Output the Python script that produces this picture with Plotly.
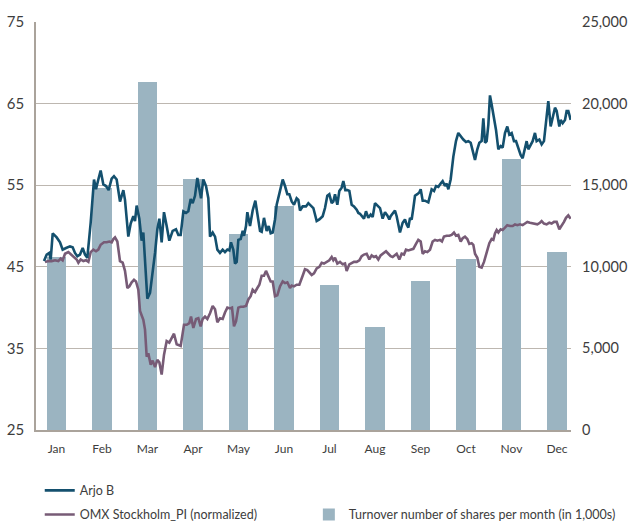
import plotly.graph_objects as go

# ---- data ----
months = ["Jan", "Feb", "Mar", "Apr", "May", "Jun", "Jul", "Aug", "Sep", "Oct", "Nov", "Dec"]
turnover = [10600, 14800, 21300, 15400, 12000, 13700, 8900, 6300, 9100, 10500, 16600, 10900]

# time measured in months since 1 January
arjo_t = [0.225, 0.284, 0.342, 0.372, 0.416, 0.503, 0.577, 0.635, 0.709, 0.796, 0.855, 0.906, 0.958, 1.016,
          1.075, 1.126, 1.177, 1.251, 1.324, 1.368, 1.419, 1.470, 1.529, 1.588, 1.646, 1.712, 1.763, 1.822,
          1.895, 1.969, 2.005, 2.078, 2.130, 2.188, 2.225, 2.261, 2.320, 2.371, 2.408, 2.467, 2.496, 2.555,
          2.613, 2.665, 2.716, 2.760, 2.811, 2.862, 2.921, 2.979,
          3.053, 3.126, 3.178, 3.229, 3.288, 3.346, 3.397, 3.449, 3.493, 3.544, 3.595, 3.639, 3.676, 3.727,
          3.786, 3.837, 3.874, 3.932, 3.984, 4.035, 4.093, 4.152, 4.203, 4.255, 4.299, 4.335, 4.386, 4.423,
          4.460, 4.496, 4.548, 4.592, 4.621, 4.665, 4.694, 4.753, 4.811, 4.870, 4.914, 4.973, 5.009, 5.060,
          5.119, 5.163, 5.207, 5.251, 5.302, 5.339, 5.412, 5.471, 5.522, 5.573, 5.617, 5.669, 5.720, 5.778,
          5.815, 5.852,
          5.910, 5.983, 6.035, 6.086, 6.145, 6.218, 6.277, 6.350, 6.401, 6.452, 6.496, 6.548, 6.584, 6.621,
          6.672, 6.716, 6.767, 6.804, 6.848, 6.892, 6.936, 6.987, 7.038, 7.097, 7.134, 7.170, 7.207, 7.258,
          7.302, 7.353, 7.405, 7.449, 7.500, 7.551, 7.610, 7.668, 7.720, 7.771, 7.815, 7.844, 7.903, 7.939,
          7.976, 8.013, 8.049, 8.108, 8.159, 8.196, 8.233, 8.269, 8.306, 8.343, 8.379, 8.430, 8.474, 8.504,
          8.548, 8.599, 8.672,
          8.745, 8.797, 8.841, 8.892, 8.943, 8.987, 9.039, 9.075, 9.112, 9.163, 9.222, 9.280, 9.331, 9.383,
          9.441, 9.500, 9.551, 9.603, 9.647, 9.698, 9.749, 9.793, 9.844, 9.881, 9.918, 9.954, 9.991, 10.027,
          10.064, 10.115, 10.159, 10.211, 10.262, 10.306, 10.357, 10.408, 10.452, 10.504, 10.555, 10.599,
          10.650, 10.701, 10.745, 10.797, 10.833, 10.870, 10.921, 10.965, 11.016, 11.053, 11.112, 11.163,
          11.214, 11.258, 11.309, 11.361, 11.405, 11.456, 11.493, 11.551, 11.581, 11.625, 11.676, 11.712,
          11.749, 11.800]
arjo_v = [45.7, 46.5, 46.7, 45.9, 49.1, 48.6, 48.0, 47.1, 47.3, 47.5, 47.4, 46.7, 46.3, 46.5,
          47.3, 46.5, 46.1, 50.4, 55.7, 54.5, 55.7, 56.8, 55.1, 54.9, 54.4, 55.8, 56.1, 55.7,
          53.0, 54.4, 53.2, 48.7, 50.3, 51.2, 50.6, 52.5, 50.9, 48.2, 49.2, 43.4, 41.1, 41.8,
          44.3, 46.7, 49.6, 50.9, 48.0, 51.7, 50.0, 48.2,
          49.4, 49.6, 48.9, 48.9, 51.8, 51.6, 51.8, 53.3, 52.8, 53.7, 55.9, 54.4, 53.4, 55.7,
          54.9, 53.4, 48.7, 49.2, 48.7, 47.1, 46.7, 47.1, 46.8, 47.1, 47.0, 48.0, 47.1, 45.4,
          45.6, 48.3, 48.4, 49.4, 48.8, 50.0, 51.7, 50.0, 51.9, 53.1, 51.6, 49.4, 49.3, 51.0,
          49.4, 50.0, 49.1, 49.2, 50.8, 52.6, 54.3, 55.7, 54.9, 53.9, 53.9, 53.0, 52.6, 53.4,
          53.2, 51.9,
          52.4, 52.4, 52.8, 52.5, 52.2, 50.6, 50.8, 51.2, 52.2, 53.7, 53.9, 52.8, 53.0, 53.9,
          52.6, 54.3, 54.7, 55.5, 54.4, 54.4, 54.3, 52.6, 52.4, 52.0, 51.6, 51.5, 51.2, 50.9,
          51.8, 51.0, 51.4, 51.1, 52.8, 52.5, 52.2, 50.9, 51.7, 51.3, 50.8, 51.2, 51.7, 51.9,
          51.2, 50.0, 49.2, 50.4, 50.8, 50.2, 49.8, 51.0, 50.8, 52.2, 53.7, 53.9, 54.1, 54.5,
          53.1, 53.1, 52.9,
          54.5, 54.3, 54.9, 54.8, 55.2, 55.5, 54.9, 55.2, 54.5, 55.7, 58.5, 60.4, 61.4, 61.0,
          60.6, 60.3, 60.4, 60.2, 59.2, 58.1, 59.4, 60.2, 60.4, 63.2, 60.2, 60.4, 62.4, 66.0,
          64.9, 63.4, 61.8, 59.4, 59.8, 59.6, 61.4, 62.2, 61.2, 61.4, 60.4, 60.4,
          59.4, 58.7, 58.3, 59.6, 60.4, 59.4, 60.0, 60.4, 61.4, 60.4, 60.6, 60.0,
          60.4, 62.4, 65.3, 62.2, 63.2, 64.5, 64.1, 62.2, 63.0, 62.6, 63.0, 64.1,
          64.1, 63.0]

omx_t = [0.247, 0.320, 0.393, 0.467, 0.540, 0.591, 0.635, 0.687, 0.760, 0.833, 0.885, 0.943, 0.980, 1.031,
         1.090, 1.148, 1.200, 1.251, 1.310, 1.368, 1.419, 1.470, 1.544, 1.603, 1.661, 1.712, 1.749, 1.786,
         1.837, 1.895, 1.954, 2.005, 2.057, 2.101, 2.152, 2.203, 2.247, 2.298, 2.335, 2.408, 2.445, 2.482,
         2.518, 2.570, 2.613, 2.665, 2.716, 2.760, 2.811, 2.862, 2.921, 2.979,
         3.082, 3.141, 3.229, 3.302, 3.361, 3.419, 3.456, 3.507, 3.566, 3.617, 3.668, 3.712, 3.764, 3.815,
         3.874, 3.932, 3.984, 4.035, 4.093, 4.152, 4.203, 4.255, 4.313, 4.357, 4.401, 4.445, 4.496, 4.548,
         4.606, 4.665, 4.716, 4.767, 4.811, 4.863, 4.914, 4.958, 5.009, 5.060, 5.104, 5.156, 5.207, 5.251,
         5.302, 5.353, 5.412, 5.471, 5.522, 5.573, 5.632, 5.669, 5.720, 5.778, 5.837,
         5.910, 5.961, 6.013, 6.057, 6.108, 6.159, 6.218, 6.277, 6.328, 6.379, 6.438, 6.496, 6.548, 6.584,
         6.621, 6.672, 6.731, 6.789, 6.841, 6.877, 6.936, 6.987, 7.038, 7.097, 7.156, 7.207, 7.258, 7.317,
         7.375, 7.427, 7.478, 7.522, 7.573, 7.624, 7.683, 7.742, 7.793, 7.844, 7.888, 7.939, 7.976, 8.035,
         8.086, 8.137, 8.181, 8.233, 8.284, 8.343, 8.401, 8.452, 8.504, 8.548, 8.599, 8.650, 8.709,
         8.767, 8.819, 8.870, 8.928, 8.972, 9.016, 9.075, 9.134, 9.185, 9.236, 9.280, 9.331, 9.383, 9.427,
         9.478, 9.529, 9.573, 9.625, 9.661, 9.698, 9.749, 9.793, 9.844, 9.896, 9.954, 10.013, 10.064, 10.101,
         10.137, 10.174, 10.211, 10.262, 10.306, 10.357, 10.408, 10.467, 10.526, 10.577, 10.628, 10.687,
         10.745, 10.797, 10.848, 10.906, 10.965, 11.016, 11.068, 11.126, 11.163, 11.214, 11.273, 11.331,
         11.383, 11.434, 11.493, 11.551, 11.602, 11.654, 11.698, 11.749, 11.800]
omx_v = [45.6, 45.7, 45.7, 45.8, 45.7, 46.0, 45.8, 46.6, 46.8, 46.4, 46.1, 45.9, 45.5, 45.9,
         45.7, 45.8, 45.6, 46.8, 47.1, 46.9, 47.1, 47.7, 48.0, 48.0, 48.1, 48.0, 48.4, 48.6,
         48.1, 45.7, 45.5, 44.5, 42.4, 42.6, 43.1, 43.4, 43.2, 42.2, 39.6, 38.5, 37.3, 34.0,
         34.4, 33.0, 33.5, 32.7, 33.6, 33.3, 31.8, 34.2, 35.9, 35.7,
         36.8, 35.5, 35.3, 37.9, 37.9, 38.1, 38.9, 37.5, 38.6, 38.7, 37.7, 38.6, 38.9, 38.6,
         39.3, 40.2, 39.8, 38.2, 38.7, 38.6, 39.4, 40.0, 39.9, 40.0, 37.7, 38.3, 40.0, 40.1,
         40.1, 40.2, 41.0, 41.4, 42.2, 41.9, 42.4, 42.8, 43.9, 43.9, 44.5, 43.9, 43.2, 43.2,
         41.4, 41.5, 42.6, 43.2, 43.0, 43.1, 42.4, 42.7, 42.6, 42.8, 42.8,
         43.9, 44.7, 44.6, 44.3, 44.0, 44.2, 44.8, 45.0, 45.5, 45.4, 45.6, 45.8, 46.2, 45.8,
         46.1, 45.4, 45.6, 45.3, 45.4, 44.5, 45.3, 45.5, 45.6, 45.6, 45.8, 46.3, 46.5, 46.6,
         45.9, 46.4, 46.2, 46.3, 45.9, 46.4, 46.6, 46.9, 46.6, 46.3, 46.2, 46.5, 46.6, 45.9,
         46.6, 46.5, 47.1, 47.0, 47.1, 47.2, 47.8, 48.3, 48.1, 46.6, 46.9, 46.8, 47.1,
         48.1, 48.3, 48.2, 48.3, 48.1, 48.7, 48.8, 48.8, 48.9, 49.2, 48.8, 48.9, 48.1, 48.5,
         48.7, 48.4, 47.8, 47.9, 47.7, 46.6, 46.1, 45.0, 44.9, 45.6, 46.8, 47.9, 48.4, 48.3,
         49.1, 49.5, 49.2, 49.6, 49.5, 49.8, 50.1, 50.0, 50.0, 50.2, 50.1, 50.2,
         50.1, 50.3, 50.5, 50.4, 50.3, 50.3, 50.2, 50.4, 50.6, 50.3, 50.2, 50.4,
         50.3, 50.5, 50.5, 49.6, 50.0, 50.5, 51.0, 51.3, 50.9]

price_ticks = [25, 35, 45, 55, 65, 75]
volume_ticks = [0, 5000, 10000, 15000, 20000, 25000]

# ---- styles ----
FONT = "Lato"
TXT = "#3d3d3d"
GRID = "#bdb7b0"
AXIS = "#aaa39b"
BAR = "#9bb4c1"
ARJO = "#14506e"
OMX = "#775b76"

bar_x = [i + 0.5 for i in range(len(months))]

fig = go.Figure()
fig.add_trace(go.Bar(
    x=bar_x, y=turnover, width=0.42, marker=dict(color=BAR, line=dict(width=0)),
    name="Turnover number of shares per month (in 1,000s)", yaxis="y", legend="legend3",
    hoverinfo="skip"))
fig.add_trace(go.Scatter(
    x=omx_t, y=omx_v, mode="lines", line=dict(color=OMX, width=2.6),
    name="OMX Stockholm_PI (normalized)", yaxis="y2", legend="legend2"))
fig.add_trace(go.Scatter(
    x=arjo_t, y=arjo_v, mode="lines", line=dict(color=ARJO, width=2.6),
    name="Arjo B", yaxis="y2", legend="legend"))

legend_common = dict(font=dict(family=FONT, size=12.5, color=TXT), bgcolor="rgba(0,0,0,0)",
                     xanchor="left", yanchor="middle", itemwidth=30, orientation="v")

fig.update_layout(
    width=633, height=523,
    margin=dict(l=36, r=62, t=22, b=93, autoexpand=False),
    paper_bgcolor="white", plot_bgcolor="white",
    font=dict(family=FONT, color=TXT),
    bargap=0,
    xaxis=dict(range=[0.049, 11.808], tickvals=bar_x, ticktext=months, showgrid=False,
               zeroline=False, showline=True, linecolor=AXIS, linewidth=1.5, ticks="",
               automargin=False,
               tickfont=dict(family=FONT, size=12, color=TXT), ticklabelstandoff=7, fixedrange=True),
    yaxis=dict(range=[0, 25000], tickvals=volume_ticks, tickformat=",", side="right",
               showgrid=True, gridcolor=GRID, gridwidth=1.2, zeroline=False, showline=False,
               automargin=False,
               ticks="", tickfont=dict(family=FONT, size=14.5, color=TXT), ticklabelstandoff=10),
    yaxis2=dict(range=[25, 75], tickvals=price_ticks, side="left", overlaying="y",
                showgrid=False, zeroline=False, showline=True, linecolor=AXIS, linewidth=1.5,
                automargin=False,
                ticks="", tickfont=dict(family=FONT, size=15, color=TXT), ticklabelstandoff=7),
    legend=dict(legend_common, x=0.007, y=-0.149),
    legend2=dict(legend_common, x=0.007, y=-0.208),
    legend3=dict(legend_common, x=0.51, y=-0.208),
    showlegend=True,
)

fig.write_html("out.html", config={"displayModeBar": False},
               post_script="document.body.style.margin='0';")
